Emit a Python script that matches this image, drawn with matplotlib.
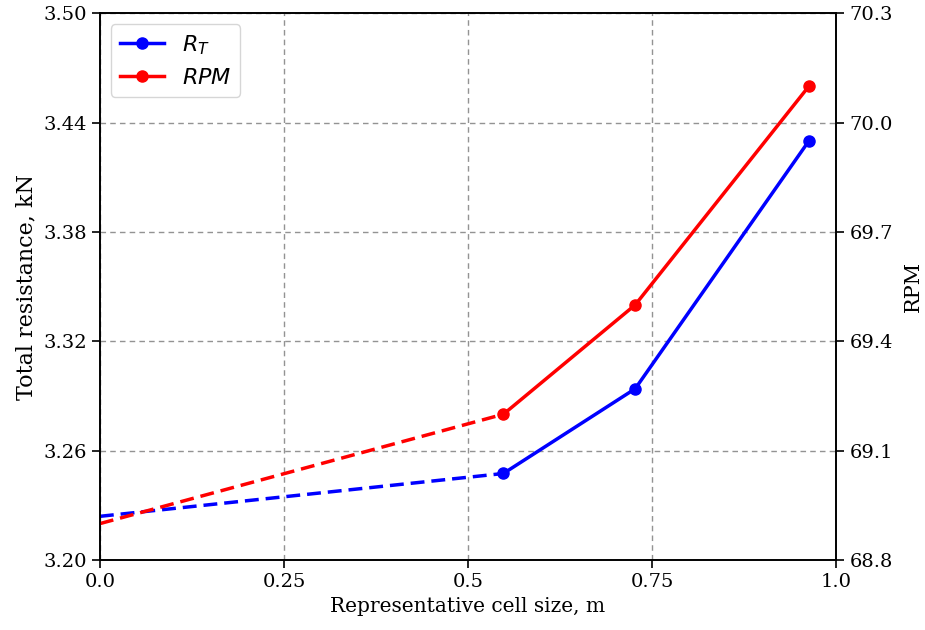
import matplotlib
matplotlib.use("Agg")
import matplotlib.pyplot as plt

# Data
cell_size = [0.548, 0.727, 0.963]
rt_values = [3.2475, 3.294, 3.430]
rpm_values = [69.2, 69.5, 70.1]
extrap_x = [0.0, 0.548]
rt_extrap = [3.224, 3.2475]
rpm_extrap = [68.90, 69.2]

x_ticks = [0.0, 0.25, 0.5, 0.75, 1.0]
x_tick_labels = ["0.0", "0.25", "0.5", "0.75", "1.0"]
left_ticks = [3.20, 3.26, 3.32, 3.38, 3.44, 3.50]
right_ticks = [68.8, 69.1, 69.4, 69.7, 70.0, 70.3]

serif = "DejaVu Serif"
fs = 14

fig = plt.figure(figsize=(9.25, 6.3), dpi=100)
ax = fig.add_axes([0.108, 0.111, 0.796, 0.868])
ax2 = ax.twinx()

l1, = ax.plot(cell_size, rt_values, color="blue", marker="o", lw=2.5, ms=8, label="$R_T$")
ax.plot(extrap_x, rt_extrap, color="blue", ls="--", lw=2.5, dashes=(4, 2))
l2, = ax2.plot(cell_size, rpm_values, color="red", marker="o", lw=2.5, ms=8, label="$RPM$")
ax2.plot(extrap_x, rpm_extrap, color="red", ls="--", lw=2.5, dashes=(4, 2))

ax.set_xlim(0, 1.0)
ax.set_ylim(3.20, 3.50)
ax2.set_ylim(68.8, 70.3)
ax.set_xticks(x_ticks)
ax.set_xticklabels(x_tick_labels)
ax.set_yticks(left_ticks)
ax.set_yticklabels([f"{v:.2f}" for v in left_ticks])
ax2.set_yticks(right_ticks)
ax2.set_yticklabels([f"{v:.1f}" for v in right_ticks])

for a in (ax, ax2):
    a.tick_params(labelsize=fs, length=6, width=1.2)
    for lab in a.get_xticklabels() + a.get_yticklabels():
        lab.set_fontfamily(serif)
    for s in a.spines.values():
        s.set_linewidth(1.2)

ax.grid(True, ls=(0, (4, 3)), color="gray", lw=1.0, alpha=0.85)
ax.set_xlabel("Representative cell size, m", fontsize=14.5, fontfamily=serif, labelpad=4)
ax.set_ylabel("Total resistance, kN", fontsize=16, fontfamily=serif)
ax2.set_ylabel("RPM", fontsize=15, fontfamily=serif, labelpad=8)

ax2.legend(handles=[l1, l2], loc="upper left", fontsize=16, handlelength=2.0)

fig.savefig("out.png", dpi=100)
